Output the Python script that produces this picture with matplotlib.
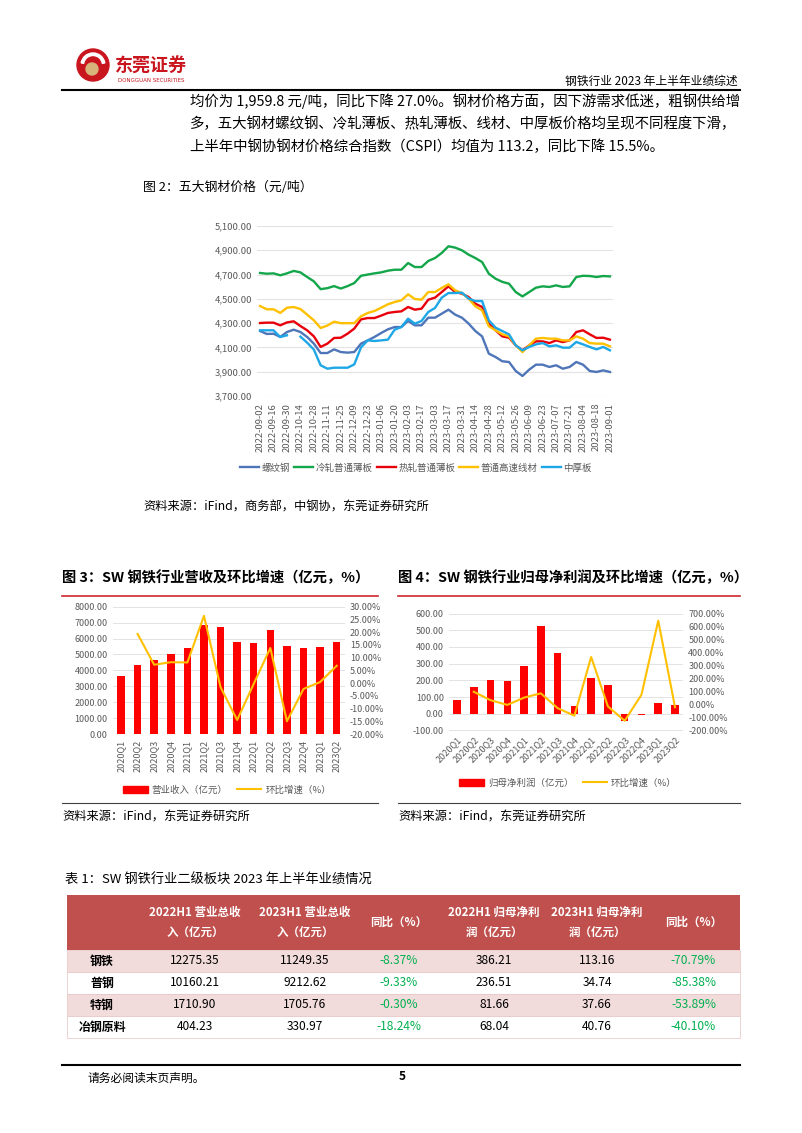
import numpy as np
import pandas as pd
import matplotlib
matplotlib.use('Agg')
import matplotlib.pyplot as plt
from matplotlib.patches import Rectangle, Circle, Wedge
from matplotlib.lines import Line2D

plt.rcParams['font.family'] = ['Noto Sans CJK SC', 'DejaVu Sans']
plt.rcParams['axes.unicode_minus'] = False

W, H = 802, 1133
nan = np.nan

# ---------------- data ----------------
# figure 2: weekly prices of five steel products (yuan/t)
dates = pd.date_range('2022-09-02', periods=53, freq='7D').strftime('%Y-%m-%d')
luowen = [4235, 4211, 4213, 4186, 4227, 4246, 4227, 4186, 4131, 4054, 4054, 4084, 4062,
          4057, 4062, 4131, 4158, 4186, 4219, 4249, 4268, 4268, 4318, 4282, 4282, 4345,
          4345, 4378, 4411, 4370, 4345, 4296, 4235, 4191, 4049, 4021, 3986, 3980, 3906,
          3865, 3917, 3958, 3958, 3939, 3953, 3925, 3939, 3980, 3958, 3906, 3898, 3911, 3898]
lengzha = [4713, 4707, 4710, 4694, 4710, 4730, 4718, 4680, 4644, 4580, 4588, 4605, 4585,
           4605, 4630, 4690, 4700, 4710, 4718, 4732, 4740, 4740, 4795, 4762, 4762, 4812,
           4836, 4878, 4933, 4922, 4900, 4864, 4836, 4803, 4707, 4666, 4640, 4625, 4556,
           4520, 4556, 4592, 4603, 4598, 4611, 4598, 4603, 4680, 4690, 4688, 4680, 4688, 4685]
rezha = [4301, 4304, 4304, 4282, 4306, 4315, 4276, 4241, 4191, 4104, 4131, 4178, 4180,
         4213, 4255, 4331, 4342, 4342, 4362, 4384, 4392, 4397, 4433, 4411, 4419, 4493,
         4510, 4556, 4603, 4556, 4543, 4515, 4460, 4433, 4296, 4241, 4191, 4180, 4117,
         4076, 4117, 4150, 4150, 4136, 4158, 4144, 4158, 4227, 4241, 4208, 4178, 4180, 4164]
xiancai = [4441, 4414, 4414, 4384, 4427, 4433, 4416, 4370, 4323, 4260, 4280, 4312, 4300,
           4300, 4300, 4356, 4384, 4400, 4427, 4455, 4474, 4488, 4537, 4499, 4493, 4556,
           4556, 4590, 4620, 4570, 4548, 4502, 4438, 4405, 4274, 4241, 4208, 4191, 4117,
           4062, 4117, 4172, 4178, 4172, 4172, 4158, 4158, 4191, 4172, 4136, 4131, 4131, 4109]
zhonghou = [4241, 4241, 4241, 4186, 4200, nan, 4189, 4139, 4082, 3953, 3925, 3933, 3933,
            3933, 3960, 4100, 4158, 4153, 4158, 4164, 4246, 4268, 4337, 4296, 4318, 4392,
            4425, 4510, 4548, 4548, 4551, 4502, 4482, 4482, 4323, 4263, 4235, 4208, 4117,
            4076, 4104, 4125, 4136, 4109, 4117, 4098, 4098, 4145, 4125, 4104, 4084, 4104, 4076]
price_names = ['螺纹钢', '冷轧普通薄板', '热轧普通薄板', '普通高速线材', '中厚板']
price_colors = ['#4F75B9', '#13A64A', '#E8000B', '#FFC000', '#1EA7E6']

# figure 3 / 4: quarterly revenue and net profit
quarters = ['2020Q1', '2020Q2', '2020Q3', '2020Q4', '2021Q1', '2021Q2', '2021Q3',
            '2021Q4', '2022Q1', '2022Q2', '2022Q3', '2022Q4', '2023Q1', '2023Q2']
revenue = [3623, 4314, 4630, 5005, 5420, 6850, 6740, 5760, 5745, 6530, 5550, 5420, 5440, 5809]
revenue_qoq = [nan, 19.3, 7.2, 8.2, 8.1, 26.4, -1.6, -14.5, -0.3, 13.8, -15.0, -2.3, 0.4, 6.8]
profit = [83, 163, 204, 196, 285, 528, 363, 46, 213, 173, -45, -10, 62, 51]
profit_qoq = [nan, 98, 33, -3, 53, 86, -28, -86, 365, -15, -125, 75, 645, -21]

# table 1
sectors = ['钢铁', '普钢', '特钢', '冶钢原料']
rev_22h1 = [12275.35, 10160.21, 1710.90, 404.23]
rev_23h1 = [11249.35, 9212.62, 1705.76, 330.97]
rev_yoy = [-8.37, -9.33, -0.30, -18.24]
np_22h1 = [386.21, 236.51, 81.66, 68.04]
np_23h1 = [113.16, 34.74, 37.66, 40.76]
np_yoy = [-70.79, -85.38, -53.89, -40.10]
table_header = ['', '2022H1 营业总收\n入（亿元）', '2023H1 营业总收\n入（亿元）', '同比（%）',
                '2022H1 归母净利\n润（亿元）', '2023H1 归母净利\n润（亿元）', '同比（%）']

body_lines = [
    '均价为 1,959.8 元/吨，同比下降 27.0%。钢材价格方面，因下游需求低迷，粗钢供给增',
    '多，五大钢材螺纹钢、冷轧薄板、热轧薄板、线材、中厚板价格均呈现不同程度下滑，',
    '上半年中钢协钢材价格综合指数（CSPI）均值为 113.2，同比下降 15.5%。',
]

# ---------------- page ----------------
fig = plt.figure(figsize=(8.02, 11.33), dpi=100)
bg = fig.add_axes([0, 0, 1, 1])
bg.set_xlim(0, W)
bg.set_ylim(H, 0)
bg.axis('off')

GREY = '#595959'
RED = '#C9151E'


def px_axes(x0, y0, x1, y1):
    # axes placed by pixel box (top-left origin)
    return fig.add_axes([x0 / W, 1 - y1 / H, (x1 - x0) / W, (y1 - y0) / H])


def clean(ax, size=6.8):
    for s in ax.spines.values():
        s.set_visible(False)
    ax.tick_params(length=0, colors=GREY, labelsize=size)
    ax.set_facecolor('none')


# header with logo
bg.add_patch(Circle((93, 65), 16, color=RED))
bg.add_patch(Wedge((93, 65), 12, 190, 350, width=2.5, color='white'))
bg.add_patch(Circle((92, 69), 6, color='#D8B37A'))
bg.text(115, 66, '东莞证券', fontsize=13, fontweight='bold', color=RED, va='center')
bg.text(118, 80, 'DONGGUAN SECURITIES', fontsize=4, color=RED, va='center', family='DejaVu Sans')
bg.text(738, 81, '钢铁行业 2023 年上半年业绩综述', fontsize=8.5, ha='right', va='center')
bg.plot([62, 740], [90, 90], color='black', lw=1.5)

for i, line in enumerate(body_lines):
    bg.text(190, 101 + 23 * i, line, fontsize=10.4, va='center')

# figure 2
bg.text(143, 187, '图 2：五大钢材价格（元/吨）', fontsize=9.3, va='center')
ax = px_axes(256.7, 226, 613.3, 396)
clean(ax)
xi = np.arange(len(dates))
series = [luowen, lengzha, rezha, xiancai, zhonghou]
for vals, col, name in zip(series, price_colors, price_names):
    ax.plot(xi, vals, color=col, lw=1.7, label=name)
ax.set_xlim(-0.5, len(dates) - 0.5)
ax.set_ylim(3700, 5100)
ax.set_yticks(np.arange(3700, 5101, 200))
ax.yaxis.set_major_formatter(lambda v, p: f'{v:,.2f}')
ax.grid(axis='y', color='#E3E3E3', lw=0.8)
ax.set_axisbelow(True)
ax.set_xticks(xi[::2])
ax.set_xticklabels(dates[::2], rotation=90)
ax.tick_params(axis='x', pad=5)
ax.tick_params(axis='y', pad=3)
h, l = ax.get_legend_handles_labels()
fig.legend(h, l, loc='center', bbox_to_anchor=(416 / W, 1 - 468 / H), ncol=5, frameon=False,
           fontsize=6.8, handlelength=2.0, handletextpad=0.3, columnspacing=0.4,
           labelcolor=GREY)
bg.text(143, 507, '资料来源：iFind，商务部，中钢协，东莞证券研究所', fontsize=8.8, va='center')

# figure 3 and 4 titles / frame lines
bg.text(62, 578, '图 3：SW 钢铁行业营收及环比增速（亿元，%）', fontsize=10.3, fontweight='bold', va='center')
bg.text(398, 578, '图 4：SW 钢铁行业归母净利润及环比增速（亿元，%）', fontsize=10.3, fontweight='bold', va='center')
bg.plot([62, 378], [596, 596], color='#D0282E', lw=1.2)
bg.plot([398, 740], [596, 596], color='#D0282E', lw=1.2)
bg.plot([62, 378], [803, 803], color='#404040', lw=0.8)
bg.plot([398, 740], [803, 803], color='#404040', lw=0.8)
bg.text(62, 817, '资料来源：iFind，东莞证券研究所', fontsize=8.8, va='center')
bg.text(398, 817, '资料来源：iFind，东莞证券研究所', fontsize=8.8, va='center')

xq = np.arange(len(quarters))
BAR = '#FF0000'
LINE = '#FFC000'

# figure 3
ax3 = px_axes(112.7, 606.7, 345, 734)
clean(ax3, 6.5)
ax3.bar(xq, revenue, width=0.45, color=BAR, zorder=2)
ax3.set_xlim(-0.5, len(quarters) - 0.5)
ax3.set_ylim(0, 8000)
ax3.set_yticks(np.arange(0, 8001, 1000))
ax3.yaxis.set_major_formatter(lambda v, p: f'{v:.2f}')
ax3.grid(axis='y', color='#E3E3E3', lw=0.7)
ax3.set_axisbelow(True)
ax3.set_xticks(xq)
ax3.set_xticklabels(quarters, rotation=90)
ax3.tick_params(axis='x', pad=4)
ax3r = ax3.twinx()
clean(ax3r, 6.5)
ax3r.plot(xq, revenue_qoq, color=LINE, lw=1.5)
ax3r.set_ylim(-20, 30)
ax3r.set_yticks(np.arange(-20, 31, 5))
ax3r.yaxis.set_major_formatter(lambda v, p: f'{v:.2f}%')
fig.legend([Rectangle((0, 0), 1, 1, color=BAR), Line2D([], [], color=LINE, lw=1.5)],
           ['营业收入（亿元）', '环比增速（%）'], loc='center',
           bbox_to_anchor=(227 / W, 1 - 790 / H), ncol=2, frameon=False, fontsize=6.8,
           handlelength=2.6, handleheight=0.8, handletextpad=0.4, columnspacing=1.0,
           labelcolor=GREY)

# figure 4
ax4 = px_axes(448.6, 613.5, 683.4, 730.5)
clean(ax4, 6.5)
ax4.bar(xq, profit, width=0.45, color=BAR, zorder=2)
ax4.set_xlim(-0.5, len(quarters) - 0.5)
ax4.set_ylim(-100, 600)
ax4.set_yticks(np.arange(-100, 601, 100))
ax4.yaxis.set_major_formatter(lambda v, p: f'{v:.2f}')
ax4.grid(axis='y', color='#E3E3E3', lw=0.7)
ax4.set_axisbelow(True)
ax4.set_xticks(xq)
ax4.set_xticklabels(quarters, rotation=45, ha='right', rotation_mode='anchor')
ax4.tick_params(axis='x', pad=3)
ax4r = ax4.twinx()
clean(ax4r, 6.5)
ax4r.plot(xq, profit_qoq, color=LINE, lw=1.5)
ax4r.set_ylim(-200, 700)
ax4r.set_yticks(np.arange(-200, 701, 100))
ax4r.yaxis.set_major_formatter(lambda v, p: f'{v:.2f}%')
fig.legend([Rectangle((0, 0), 1, 1, color=BAR), Line2D([], [], color=LINE, lw=1.5)],
           ['归母净利润（亿元）', '环比增速（%）'], loc='center',
           bbox_to_anchor=(568 / W, 1 - 783 / H), ncol=2, frameon=False, fontsize=6.8,
           handlelength=2.6, handleheight=0.8, handletextpad=0.4, columnspacing=1.0,
           labelcolor=GREY)

# table 1
bg.text(65, 880, '表 1：SW 钢铁行业二级板块 2023 年上半年业绩情况', fontsize=9.5, va='center')
col_edges = [67, 137, 253, 357, 441, 547, 647, 740]
centers = [(a + b) / 2 for a, b in zip(col_edges[:-1], col_edges[1:])]
top, head_h, row_h = 895, 55, 22
bg.add_patch(Rectangle((col_edges[0], top), col_edges[-1] - col_edges[0], head_h,
                       color='#C0504D', lw=0))
for c, txt in zip(centers, table_header):
    bg.text(c, top + head_h / 2, txt, fontsize=8.3, fontweight='bold', color='white',
            ha='center', va='center', linespacing=1.8)
GREEN = '#00B050'
for r, name in enumerate(sectors):
    y0 = top + head_h + r * row_h
    fill = '#F2DCDB' if r % 2 == 0 else 'white'
    bg.add_patch(Rectangle((col_edges[0], y0), col_edges[-1] - col_edges[0], row_h,
                           facecolor=fill, edgecolor='#E6C4C3', lw=0.5))
    cells = [name, f'{rev_22h1[r]:.2f}', f'{rev_23h1[r]:.2f}', f'{rev_yoy[r]:.2f}%',
             f'{np_22h1[r]:.2f}', f'{np_23h1[r]:.2f}', f'{np_yoy[r]:.2f}%']
    for k, (c, txt) in enumerate(zip(centers, cells)):
        color = GREEN if k in (3, 6) else 'black'
        weight = 'bold' if k == 0 else 'normal'
        bg.text(c, y0 + row_h / 2, txt, fontsize=8.6, color=color, fontweight=weight,
                ha='center', va='center')

# footer
bg.plot([62, 740], [1065, 1065], color='black', lw=1.5)
bg.text(88, 1078, '请务必阅读末页声明。', fontsize=8.5, va='center')
bg.text(402, 1077, '5', fontsize=8.5, fontweight='bold', va='center', ha='center')

fig.savefig('out.png', dpi=100)
